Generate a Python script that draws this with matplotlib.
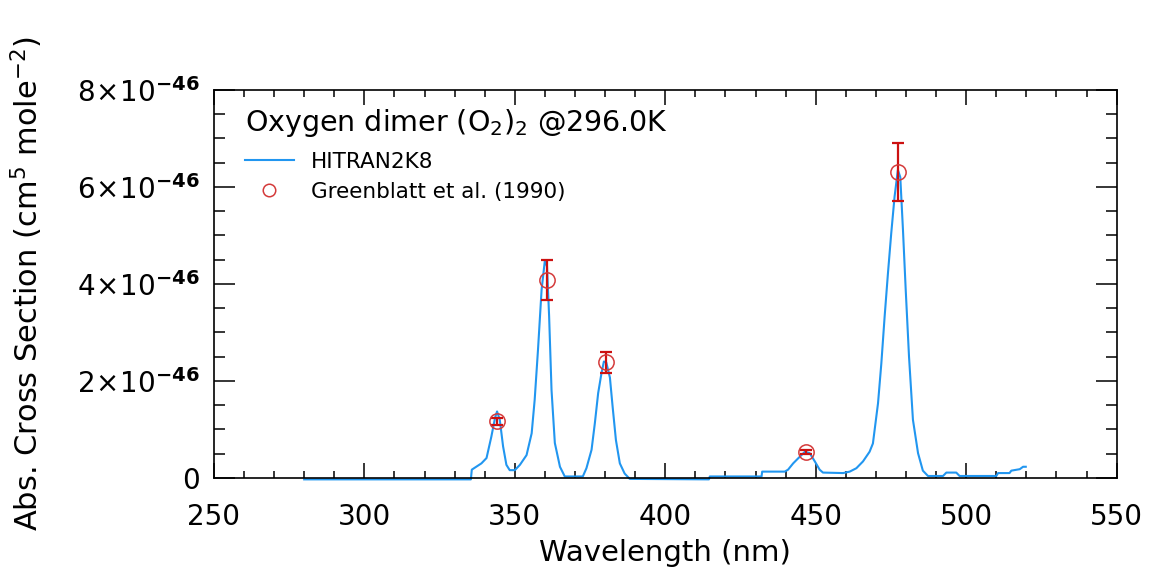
import matplotlib

matplotlib.use("Agg")

import matplotlib.pyplot as plt
from matplotlib.lines import Line2D
from matplotlib.ticker import FixedLocator, FuncFormatter

# HITRAN2K8 cross section (units of 1e-46)
hitran_wl = [
    280.0, 335.4, 335.7, 338.9, 340.6, 342.2, 343.4, 344.1, 345.0, 346.1,
    347.2, 348.3, 350.0, 351.7, 353.9, 355.6, 356.6, 357.7, 358.9, 360.0,
    360.7, 361.4, 362.2, 363.3, 365.0, 366.6, 372.6, 373.8, 375.5, 376.6,
    377.7, 378.8, 379.6, 380.4, 381.6, 382.5, 383.6, 384.9, 386.5, 388.2,
    414.5, 414.8, 432.0, 432.2, 439.7, 440.8, 442.5, 444.1, 446.4, 448.0,
    449.7, 451.3, 452.4, 459.1, 461.3, 463.5, 465.7, 467.9, 469.0, 470.7,
    471.8, 472.9, 474.0, 475.1, 476.2, 477.3, 478.1, 479.0, 479.9, 481.0,
    482.3, 484.0, 485.6, 487.3, 492.3, 493.4, 496.7, 497.8, 510.0, 510.6,
    514.4, 515.0, 517.8, 518.9, 519.8,
]
hitran_xs = [
    -0.03, -0.03, 0.17, 0.30, 0.41, 0.85, 1.23, 1.37, 1.20, 0.65,
    0.27, 0.16, 0.16, 0.27, 0.47, 0.92, 1.61, 2.64, 3.88, 4.49,
    4.36, 3.33, 1.81, 0.72, 0.23, 0.03, 0.03, 0.20, 0.58, 1.13,
    1.75, 2.16, 2.40, 2.38, 2.07, 1.47, 0.78, 0.30, 0.09, -0.02,
    -0.03, 0.03, 0.03, 0.13, 0.13, 0.17, 0.30, 0.40, 0.54, 0.51,
    0.34, 0.17, 0.11, 0.10, 0.13, 0.20, 0.34, 0.54, 0.71, 1.54,
    2.36, 3.33, 4.22, 5.05, 5.80, 6.35, 6.20, 5.10, 3.88, 2.50,
    1.20, 0.51, 0.15, 0.04, 0.04, 0.11, 0.11, 0.04, 0.04, 0.10,
    0.10, 0.15, 0.18, 0.23, 0.23,
]

# Greenblatt et al. (1990) measurements (units of 1e-46)
gb_wl = [344.2, 360.6, 380.3, 446.9, 477.2]
gb_xs = [1.17, 4.08, 2.38, 0.53, 6.30]
gb_err = [0.07, 0.41, 0.21, 0.04, 0.60]

y_ticks = [0, 2, 4, 6, 8]

SCALE = 1e-46
BLUE = "#2196f0"
RED = "#cc1111"

plt.rcParams["font.family"] = "DejaVu Sans"
plt.rcParams["mathtext.fontset"] = "dejavusans"

fig = plt.figure(figsize=(11.5, 5.8), dpi=100)
ax = fig.add_axes([0.186, 0.176, 0.785, 0.669])

ax.plot(hitran_wl, [v * SCALE for v in hitran_xs],
        color=BLUE, lw=1.5, clip_on=False, zorder=2)
ax.errorbar(gb_wl, [v * SCALE for v in gb_xs], yerr=[e * SCALE for e in gb_err],
            fmt="none", ecolor=RED, elinewidth=1.6, capsize=4.5,
            capthick=1.6, zorder=3)
ax.plot(gb_wl, [v * SCALE for v in gb_xs], linestyle="none", marker="o",
        markersize=11, markerfacecolor="none", markeredgecolor="#d43a3a",
        markeredgewidth=1.1, zorder=4)

ax.set_xlim(250, 550)
ax.set_ylim(0, 8e-46)
ax.xaxis.set_major_locator(FixedLocator(range(250, 551, 50)))
ax.xaxis.set_minor_locator(FixedLocator(range(250, 551, 10)))
ax.yaxis.set_major_locator(FixedLocator([t * SCALE for t in y_ticks]))
ax.yaxis.set_minor_locator(FixedLocator([t * 0.5 * SCALE for t in range(17)]))


def yfmt(v, pos):
    n = round(v / SCALE)
    if n == 0:
        return "0"
    return r"$%d\!\times\!10^{\mathbf{-46}}$" % n


ax.yaxis.set_major_formatter(FuncFormatter(yfmt))

ax.tick_params(axis="both", which="both", direction="in", top=True, right=True,
               colors="black", labelsize=20, width=1.1)
ax.tick_params(axis="x", which="major", length=11, pad=18)
ax.tick_params(axis="x", which="minor", length=5)
ax.tick_params(axis="y", which="major", length=15, pad=10)
ax.tick_params(axis="y", which="minor", length=8)
for sp in ax.spines.values():
    sp.set_linewidth(1.2)

ax.set_xlabel("Wavelength (nm)", fontsize=21, labelpad=6)
ax.set_ylabel(r"Abs. Cross Section (cm$^{5}$ mole$^{-2}$)", fontsize=22)
ax.yaxis.set_label_coords(-0.187, 0.5)

handles = [
    Line2D([], [], color=BLUE, lw=1.5),
    Line2D([], [], linestyle="none", marker="o", markersize=9,
           markerfacecolor="none", markeredgecolor="#d43a3a", markeredgewidth=1.1),
]
leg = ax.legend(handles, ["HITRAN2K8", "Greenblatt et al. (1990)"],
                title=r"Oxygen dimer (O$_2$)$_2$ @296.0K", title_fontsize=20.5,
                fontsize=15.5, loc="upper left", frameon=False,
                alignment="left", handlelength=2.3, handletextpad=0.8,
                borderaxespad=0.0, borderpad=0.0,
                bbox_to_anchor=(0.034, 0.955), labelspacing=0.45)
leg._legend_box.sep = 9

fig.savefig("out.png", dpi=100)
